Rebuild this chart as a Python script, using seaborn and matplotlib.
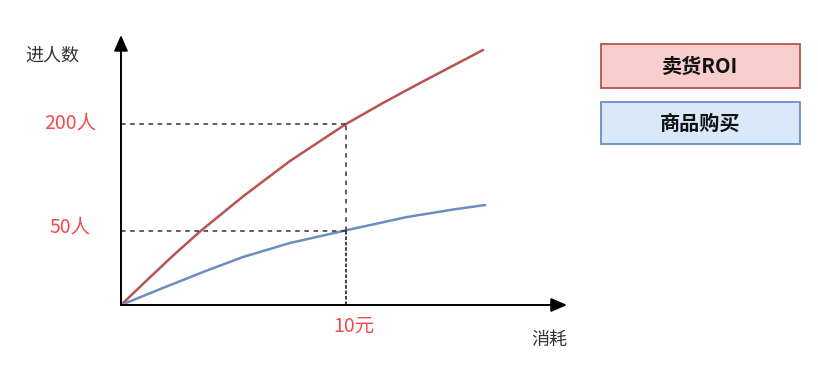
import matplotlib
matplotlib.use("Agg")
import matplotlib.pyplot as plt
import matplotlib.transforms as mtransforms
from matplotlib.patches import Rectangle
import seaborn as sns
import pandas as pd

sns.set_theme(style="white")
plt.rcParams['font.family'] = ['Noto Sans CJK SC', 'DejaVu Sans']

# data (x: spend units where 10元 = 10; y: arbitrary people scale)
red_x = [0, 1.16, 2.34, 3.51, 5.42, 7.51, 10.0, 11.64, 13.29, 16.09]
red_y = [0, 27.6, 55.2, 81.2, 119.9, 159.1, 200, 223.2, 245.3, 281.8]
blue_x = [0, 1.91, 3.82, 5.42, 7.51, 10.0, 12.71, 14.76, 16.18]
blue_y = [0, 19.3, 38.1, 53.0, 68.5, 82.5, 97.2, 105.5, 110.5]
series_names = ["卖货ROI", "商品购买"]
y_ticks = [81.5, 200]
y_tick_labels = ["50人", "200人"]
x_tick = 10.0
x_tick_label = "10元"
y_title = "进人数"
x_title = "消耗"

W, H = 818, 370
fig = plt.figure(figsize=(W / 100, H / 100), dpi=100)
x0, x1, y0, y1 = 121, 567, 305, 35
ax = fig.add_axes([x0 / W, (H - y0) / H, (x1 - x0) / W, (y0 - y1) / H])
ax.set_xlim(0, (x1 - x0) / 22.5)
ax.set_ylim(0, (y0 - y1) / 0.905)
for s in ax.spines.values():
    s.set_visible(False)
ax.set_xticks([])
ax.set_yticks([])

df = pd.concat([
    pd.DataFrame({"x": red_x, "y": red_y, "s": series_names[0]}),
    pd.DataFrame({"x": blue_x, "y": blue_y, "s": series_names[1]}),
])
sns.lineplot(data=df, x="x", y="y", hue="s", palette=["#b85450", "#6c8ebf"],
             linewidth=1.8, legend=False, ax=ax, sort=False, estimator=None)
for l in ax.lines:
    l.set_solid_joinstyle("round")

# dashed guide lines
dash_kw = dict(color="#333333", linewidth=1.1, linestyle=(0, (3, 3)))
for yt in y_ticks:
    ax.plot([0, x_tick], [yt, yt], **dash_kw)
ax.plot([x_tick, x_tick], [y_ticks[0], y_ticks[1]], **dash_kw)
ax.plot([x_tick, x_tick], [0, y_ticks[0]], color="#333333", linewidth=1.3,
        linestyle=(0, (2, 1)))

# axes arrows
xmax = ax.get_xlim()[1]
ymax = ax.get_ylim()[1]
arrow = dict(arrowstyle="-|>,head_length=0.8,head_width=0.35", color="black",
             linewidth=1.4, shrinkA=0, shrinkB=0)
ax.annotate("", xy=(xmax, 0), xytext=(0, 0), arrowprops=arrow, annotation_clip=False)
ax.annotate("", xy=(0, ymax), xytext=(0, 0), arrowprops=arrow, annotation_clip=False)

red_txt = "#f24b4f"
trans = mtransforms.blended_transform_factory(fig.transFigure, ax.transData)
for yt, lab, dy in zip(y_ticks, y_tick_labels, [4, 1]):
    t = ax.text(70 / W, yt, lab, transform=trans, ha="center", va="center",
                color=red_txt, fontsize=14)
    t.set_transform(trans + mtransforms.ScaledTranslation(0, dy / 100, fig.dpi_scale_trans))
trans2 = mtransforms.blended_transform_factory(ax.transData, fig.transFigure)
t = ax.text(x_tick, 1 - 326 / H, x_tick_label, transform=trans2, ha="center",
            va="center", color=red_txt, fontsize=14)
t.set_transform(trans2 + mtransforms.ScaledTranslation(8 / 100, 0, fig.dpi_scale_trans))

fig.text(52 / W, 1 - 56 / H, y_title, ha="center", va="center", color="#333333", fontsize=13)
fig.text(549 / W, 1 - 340 / H, x_title, ha="center", va="center", color="#333333", fontsize=13)

# legend boxes
boxes = [(44, 88, "#f8cecc", "#b85450"), (102, 144, "#dae8fc", "#6c8ebf")]
for (top, bot, fc, ec), name in zip(boxes, series_names):
    r = Rectangle((601 / W, 1 - bot / H), 199 / W, (bot - top) / H,
                  transform=fig.transFigure, facecolor=fc, edgecolor=ec, linewidth=1.3)
    fig.patches.append(r)
    fig.text(700 / W, 1 - (top + bot) / 2 / H, name, ha="center", va="center",
             fontsize=14.5, fontweight="bold", color="#111111")

fig.savefig("out.png", dpi=100)
